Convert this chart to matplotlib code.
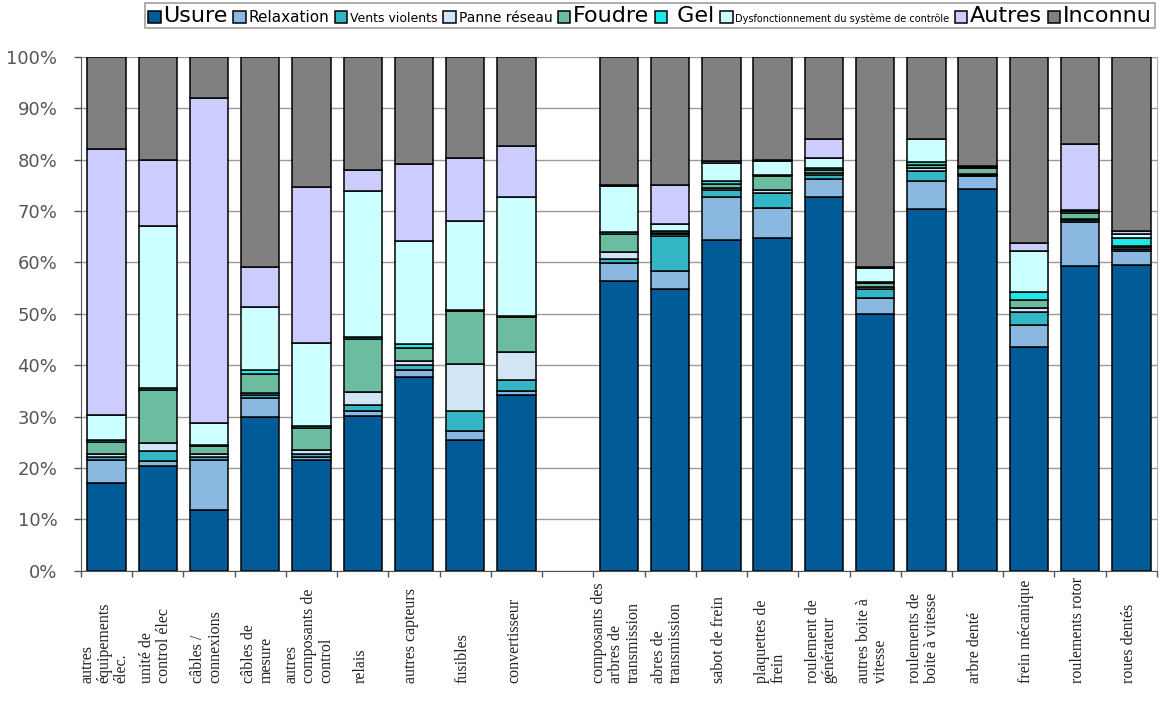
import numpy as np
import matplotlib.pyplot as plt

# DONNEES (en % de chaque composant)
categories = [
    "autres\néquipements\nélec.",
    "unité de\ncontrol élec",
    "câbles /\nconnexions",
    "câbles de\nmesure",
    "autres\ncomposants de\ncontrol",
    "relais",
    "autres capteurs",
    "fusibles",
    "convertisseur",
    "composants des\narbres de\ntransmission",
    "abres de\ntransmission",
    "sabot de frein",
    "plaquettes de\nfrein",
    "roulement de\ngénérateur",
    "autres boite à\nvitesse",
    "roulements de\nboite à vitesse",
    "arbre denté",
    "frein mécanique",
    "roulements rotor",
    "roues dentés",
]

usure = [17.0, 20.3, 11.9, 30.0, 21.5, 30.1, 37.6, 25.4, 34.1,
         56.4, 54.9, 64.4, 64.8, 72.8, 50.0, 70.3, 74.3, 43.6, 59.2, 59.4]
relaxation = [4.6, 1.0, 9.7, 3.6, 0.6, 0.9, 1.4, 1.8, 0.8,
              3.5, 3.4, 8.4, 5.7, 3.4, 3.0, 5.5, 2.5, 4.2, 8.6, 2.9]
vents = [0.6, 1.9, 0.5, 0.5, 0.6, 1.2, 1.0, 3.8, 2.3,
         0.8, 6.9, 1.2, 3.0, 0.8, 1.8, 2.0, 0.2, 2.5, 0.4, 0.3]
panne = [0.6, 1.6, 0.6, 0.5, 0.8, 2.6, 0.8, 9.3, 5.4,
         1.3, 0.3, 0.5, 0.6, 0.4, 0.4, 0.5, 0.2, 0.8, 0.3, 0.3]
foudre = [2.2, 10.4, 1.5, 3.7, 4.3, 10.3, 2.5, 10.2, 6.7,
          3.6, 0.3, 0.8, 2.6, 0.5, 0.7, 0.6, 1.2, 1.6, 1.0, 0.3]
gel = [0.5, 0.4, 0.3, 0.7, 0.3, 0.3, 0.9, 0.3, 0.3,
       0.3, 0.3, 0.5, 0.3, 0.4, 0.3, 0.6, 0.1, 1.5, 0.4, 1.6]
dysf = [4.8, 31.4, 4.2, 12.3, 16.3, 28.4, 20.0, 17.3, 23.2,
        8.9, 1.3, 3.6, 2.8, 1.9, 2.7, 4.4, 0.1, 8.1, 0.3, 0.8]
autres = [51.7, 13.0, 63.2, 7.8, 30.2, 4.2, 14.9, 12.1, 9.9,
          0.2, 7.6, 0.3, 0.2, 3.8, 0.2, 0.1, 0.1, 1.5, 12.9, 0.5]
inconnu = [18.0, 20.0, 8.1, 40.9, 25.4, 22.0, 20.9, 19.8, 17.3,
           25.0, 25.0, 20.3, 20.0, 16.0, 40.9, 16.0, 21.3, 36.2, 16.9, 33.9]

series_names = ["Usure", "Relaxation", "Vents violents", "Panne réseau", "Foudre",
                " Gel", "Dysfonctionnement du système de contrôle", "Autres", "Inconnu"]
series_values = [usure, relaxation, vents, panne, foudre, gel, dysf, autres, inconnu]
couleurs = ["#005b96", "#8ab8e0", "#33b6c6", "#d2e5f5", "#6cbca0",
            "#1ee8e8", "#ccffff", "#ccccff", "#808080"]
tailles_legende = [16, 11, 9, 10, 16, 16, 7, 16, 16]

# POSITIONS (un emplacement vide entre les deux groupes)
n_gauche = 9
idx = np.arange(len(categories))
x = idx + (idx >= n_gauche)

# FIGURE
fig = plt.figure(figsize=(11.63, 7.09), dpi=100)
ax = fig.add_axes([0.0696, 0.195, 0.9252, 0.725])

bas = np.zeros(len(categories))
for nom, vals, coul in zip(series_names, series_values, couleurs):
    vals = np.array(vals)
    ax.bar(x, vals, bottom=bas, width=0.75, color=coul, edgecolor="black",
           linewidth=1.1, label=nom, zorder=3)
    bas += vals

# AXES
ax.set_xlim(-0.5, 20.5)
ax.set_ylim(0, 100)
ax.set_yticks(np.arange(0, 101, 10))
ax.set_yticklabels([f"{v}%" for v in range(0, 101, 10)], fontsize=13, color="#555555")
ax.set_xticks(np.arange(-0.5, 21, 1))
ax.set_xticklabels([])
ax.tick_params(axis="y", length=5, width=1, color="#555555", pad=12)
ax.tick_params(axis="x", length=4, width=1, color="#555555")
ax.yaxis.grid(True, color="#9a9a9a", linewidth=1.0)
ax.set_axisbelow(True)
ax.spines["left"].set_color("#555555")
ax.spines["bottom"].set_color("#555555")
ax.spines["top"].set_visible(False)
ax.spines["right"].set_color("#b0b0b0")

# ETIQUETTES VERTICALES
for xi, cat in zip(x, categories):
    ax.text(xi - 0.05, -0.218, cat, transform=ax.get_xaxis_transform(), rotation=90,
            rotation_mode="anchor", ha="left", va="center", multialignment="left",
            fontsize=11.5, family="Liberation Serif", linespacing=1.08, color="#222222")

# LEGENDE
leg = fig.legend(loc="upper center", bbox_to_anchor=(0.559, 0.998), ncol=9,
                 fontsize=10, frameon=True, fancybox=False, edgecolor="#888888",
                 handlelength=0.9, handleheight=0.9, handletextpad=0.2,
                 columnspacing=0.4, borderpad=0.2, borderaxespad=0.1)
leg.get_frame().set_linewidth(1.2)
for txt, t in zip(leg.get_texts(), tailles_legende):
    txt.set_fontsize(t)

fig.savefig("out.png", dpi=100)
